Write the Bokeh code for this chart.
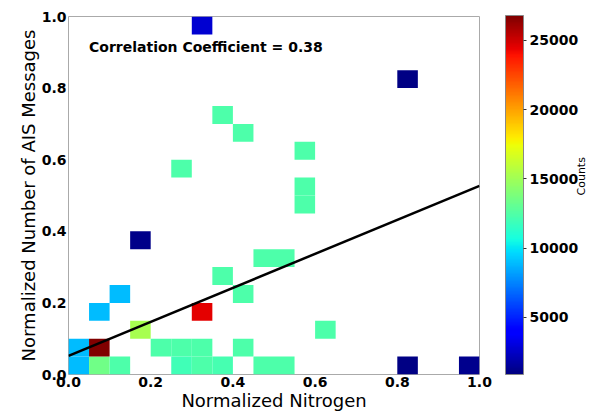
import numpy as np
from bokeh.plotting import figure
from bokeh.models import (ColumnDataSource, LinearColorMapper, ColorBar, FixedTicker,
                          NumeralTickFormatter, Label, LinearAxis)
from bokeh.embed import file_html
from bokeh.resources import INLINE

# ---- data: 2D histogram bins (left/bottom edges) and counts ----
bin_size = 0.05
x_left = [0.00, 0.00, 0.05, 0.05, 0.10, 0.05, 0.10, 0.15, 0.15, 0.20, 0.25, 0.30, 0.25,
          0.30, 0.35, 0.30, 0.35, 0.40, 0.40, 0.45, 0.50, 0.45, 0.50, 0.55, 0.55, 0.55,
          0.60, 0.80, 0.95, 0.30, 0.80, 0.35, 0.40, 0.25]
y_bottom = [0.00, 0.05, 0.00, 0.05, 0.00, 0.15, 0.20, 0.10, 0.35, 0.05, 0.05, 0.05, 0.00,
            0.00, 0.00, 0.15, 0.25, 0.20, 0.05, 0.30, 0.30, 0.00, 0.00, 0.45, 0.50, 0.60,
            0.10, 0.00, 0.00, 0.95, 0.80, 0.70, 0.65, 0.55]
counts = [8900, 8900, 13500, 26800, 12400, 8900, 8900, 15200, 1100, 12400, 12400, 12400, 12000,
          12400, 12200, 24500, 12400, 12400, 12400, 12400, 12400, 12400, 12400, 12400, 12400, 12400,
          12400, 1000, 1200, 2800, 1000, 12400, 12400, 12400]
count_min, count_max = 880, 26800
cbar_ticks = [5000, 10000, 15000, 20000, 25000]
fit_intercept, fit_slope = 0.052, 0.475
corr_text = "Correlation Coefficient = 0.38"
cbar_label = "Counts"

# ---- jet colormap ----
def jet_palette(n=256):
    t = np.linspace(0, 1, n)
    r = np.interp(t, [0, 0.35, 0.66, 0.89, 1], [0, 0, 1, 1, 0.5])
    g = np.interp(t, [0, 0.125, 0.375, 0.64, 0.91, 1], [0, 0, 1, 1, 0, 0])
    b = np.interp(t, [0, 0.11, 0.34, 0.65, 1], [0.5, 1, 1, 0, 0])
    return ["#%02x%02x%02x" % (int(round(rr * 255)), int(round(gg * 255)), int(round(bb * 255)))
            for rr, gg, bb in zip(r, g, b)]

mapper = LinearColorMapper(palette=jet_palette(), low=count_min, high=count_max)

src = ColumnDataSource(dict(
    x=[v + bin_size / 2 for v in x_left],
    y=[v + bin_size / 2 for v in y_bottom],
    c=counts,
))

FONT = "DejaVu Sans"
p = figure(width=597, height=413, x_range=(0, 1), y_range=(0, 1),
           output_backend="svg", toolbar_location=None,
           x_axis_label="Normalized Nitrogen", y_axis_label="Normalized Number of AIS Messages")
p.min_border_top = 16
p.min_border_left = 68
p.min_border_bottom = 38
p.min_border_right = 116
p.grid.visible = False
p.outline_line_color = "#aaaaaa"
p.background_fill_color = "white"

p.rect(x="x", y="y", width=bin_size, height=bin_size, source=src,
       fill_color={"field": "c", "transform": mapper}, line_color=None)

xs = np.array([0.0, 1.0])
p.line(xs, fit_intercept + fit_slope * xs, line_color="black", line_width=2.5)

p.add_layout(Label(x=0.05, y=0.916, text=corr_text, text_font=FONT, text_font_size="14px",
                   text_font_style="bold", text_baseline="middle", text_color="black"))

for ax in (p.xaxis[0], p.yaxis[0]):
    ax.ticker = FixedTicker(ticks=[0, 0.2, 0.4, 0.6, 0.8, 1.0])
    ax.formatter = NumeralTickFormatter(format="0.0")
    ax.axis_line_color = None
    ax.major_tick_line_color = None
    ax.minor_tick_line_color = None
    ax.major_tick_out = 0
    ax.major_tick_in = 0
    ax.major_label_text_font = FONT
    ax.major_label_text_font_size = "14px"
    ax.major_label_text_font_style = "bold"
    ax.major_label_text_color = "black"
    ax.axis_label_text_font = FONT
    ax.axis_label_text_font_size = "18px"
    ax.axis_label_text_font_style = "normal"
    ax.axis_label_text_color = "black"
    ax.major_label_standoff = 2
    ax.axis_label_standoff = 0

cbar = ColorBar(color_mapper=mapper, ticker=FixedTicker(ticks=cbar_ticks), width=18, height=359,
                padding=0, margin=0, location=(26, 0), label_standoff=3,
                major_label_text_font=FONT, major_label_text_font_size="14px",
                major_label_text_font_style="bold", major_label_text_color="black",
                major_tick_line_color="#333333", major_tick_in=0, major_tick_out=3,
                minor_tick_line_color=None, bar_line_color="#888888",
                background_fill_color=None, border_line_color=None)
p.add_layout(cbar, "right")

lab_axis = LinearAxis(ticker=FixedTicker(ticks=[0.5]), major_label_overrides={0.5: cbar_label},
                      axis_line_color=None, major_tick_line_color=None, minor_tick_line_color=None,
                      major_tick_in=0, major_tick_out=0, major_label_standoff=0,
                      major_label_orientation=np.pi / 2,
                      major_label_text_font=FONT, major_label_text_font_size="11px",
                      major_label_text_color="black")
p.add_layout(lab_axis, "right")

open("out.html", "w").write(file_html(p, INLINE))
